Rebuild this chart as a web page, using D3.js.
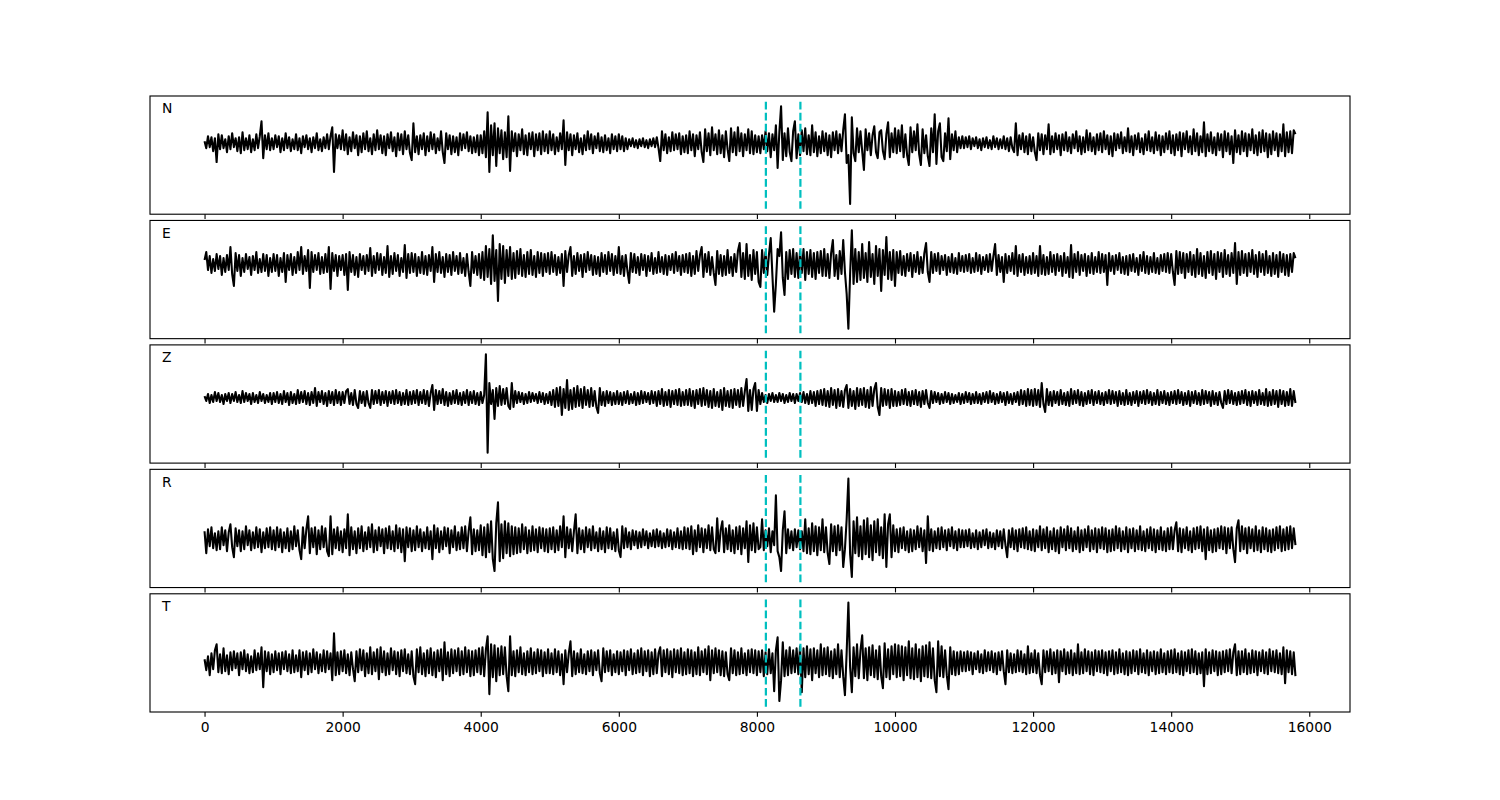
<!DOCTYPE html>
<html>
<head>
<meta charset="utf-8">
<script src="https://cdn.jsdelivr.net/npm/d3@7"></script>
<style>
  html, body { margin: 0; padding: 0; background: #fff; }
  svg { display: block; }
  text { font-family: "DejaVu Sans", sans-serif; }
</style>
</head>
<body>
<svg id="chart" width="1500" height="800"></svg>
<script>
// ---------------- data ----------------
const channels = ["N", "E", "Z", "R", "T"];
const sampleStep = 25;            // samples between listed values
const channelMeans = [12, 15.6, 6, -10.8, -9.4]; // trace mean level (amplitude units)
const pickSamples = [8130, 8630]; // dashed markers
const pickRange = [-54, 54];
const xTicks = [0, 2000, 4000, 6000, 8000, 10000, 12000, 14000, 16000];
const nSamples = 15800;

const traceN = [
  2,-5,7,-4,6,-8,5,-19,9,-6,8,-5,4,-9,7,-6,10,-4,5,-8,6,-10,11,-7,5,-6,8,-9,4,-7,9,-5,7,22,-15,8,-6,10,-7,5,
  -6,8,-4,7,-9,5,-7,10,-5,6,-8,4,-6,9,-7,5,-10,7,-4,8,-6,5,-9,6,-5,10,-7,4,-8,6,-5,9,-6,7,16,-29,9,-5,8,-6,
  13,-7,9,-11,6,-8,11,-5,8,-12,7,-9,10,-6,12,-8,5,-11,9,-7,13,-6,8,-10,7,-12,9,-5,11,-8,6,-13,10,-7,9,-11,12,-6,8,-10,
  -17,20,-9,7,-11,8,-6,10,-12,7,-8,11,-6,9,-10,5,-7,12,-9,-20,10,-6,8,-11,7,-9,6,-12,10,-7,9,-5,11,-8,7,-10,6,-9,8,-12,
  8,-10,12,-14,31,-29,18,-12,20,-23,15,-10,13,-16,11,-14,27,-28,12,-8,10,-13,9,-7,14,-11,8,-12,10,-6,11,-13,9,-7,10,-11,12,-8,9,-10,
  12,-7,9,-11,6,-8,10,-6,23,-22,11,-7,9,-12,8,-6,10,-9,5,-11,8,-7,12,-6,9,-10,7,-5,10,-8,6,-9,8,-7,5,-10,9,-6,7,-8,
  9,-6,7,-8,5,-6,4,-3,5,-4,3,-5,4,-3,5,-4,3,-5,4,-3,5,-4,6,-5,-18,12,-7,9,-10,6,-8,11,-7,9,-6,10,-11,7,-9,8,
  -10,12,-7,9,-13,8,-6,11,-9,-19,14,-8,10,-12,16,-7,9,-11,13,-10,8,-14,12,-6,-18,15,-9,11,-12,16,-8,10,-13,9,-7,14,-10,12,-11,8,
  -9,7,-10,8,-6,12,-8,10,-14,9,-7,18,-25,11,37,-17,10,-13,15,-9,-18,12,22,-15,9,-12,13,-8,15,-11,8,-12,18,-9,11,-13,7,-10,12,-8,
  10,-12,8,-14,11,-7,12,-10,9,-8,13,29,-20,-12,-61,26,-10,-18,15,-9,12,-8,-27,14,-7,10,-12,8,17,-9,-15,11,13,-8,-16,9,21,-14,10,-9,
  15,-10,13,-8,18,-14,9,-12,-22,16,-9,12,-7,19,-11,-22,14,-10,8,-13,-23,15,-9,29,-21,12,20,-14,-18,10,-8,25,-16,9,-7,12,-9,6,-5,7,
  -5,6,-4,7,-6,5,-3,6,-5,4,-7,5,-4,6,-5,3,-6,7,-4,5,-6,4,-5,7,-6,5,-8,6,-5,-9,20,-12,8,-6,10,-9,7,-11,9,-8,
  6,-9,-17,10,-7,9,-11,8,-6,19,-11,7,-9,10,-6,8,-12,9,-7,11,-8,6,-10,9,-5,12,-8,7,-11,6,-9,13,-7,10,-8,6,-11,9,-7,10,
  -9,12,-6,8,-11,7,-13,10,-7,9,-5,11,-10,6,-8,15,-9,7,-12,8,-6,10,-9,5,-11,9,-7,12,-8,6,-10,11,-7,8,-12,7,-9,10,-6,12,
  -10,8,-12,9,-7,11,-13,10,-6,12,-9,7,-11,14,-8,10,-12,7,-9,21,-13,9,-8,11,-10,6,-12,10,-7,9,-14,12,-8,10,-11,7,-20,13,-9,8,
  -11,12,-8,10,-13,9,-7,14,-10,8,-12,11,-9,13,-8,10,-14,9,-11,12,-7,10,-13,9,-8,19,-13,11,-9,12,-10,13,9
];
const traceE = [
  4,12,-6,8,-9,5,-7,10,-5,8,-11,6,-8,9,-6,17,-10,-22,11,-7,9,-12,6,-8,10,-5,7,-11,8,-6,12,-9,5,-8,10,-7,9,-12,6,-8,
  10,-7,9,-12,6,-8,11,-18,9,-6,10,-11,7,-9,12,-6,17,-10,8,-7,14,-24,12,-8,9,-6,11,-10,7,-9,10,-8,17,-25,11,-7,9,-12,8,-6,
  9,-11,10,-26,12,-8,9,-11,7,-13,10,-6,8,-10,9,-7,16,-12,8,-9,11,-6,10,-11,7,-9,18,-13,8,-10,11,-7,9,-12,6,-8,19,-14,10,-9,
  11,-8,10,-12,7,-9,12,-10,8,-11,9,-7,17,-18,10,-8,12,-9,7,-13,10,-8,9,-11,12,-7,8,-10,11,-9,6,-12,10,-8,-22,12,-9,8,-11,10,
  -14,12,-16,18,-13,15,-20,29,-17,14,-37,20,-15,18,-19,14,-12,17,-15,11,-14,13,-10,15,-12,9,-13,12,-10,14,-11,8,-13,12,-9,11,-12,10,-8,11,
  -10,12,-8,9,-11,7,-9,10,-22,13,-8,9,17,-12,8,-10,11,-7,9,-13,10,-8,12,-6,9,-11,8,-10,7,-12,11,-8,9,-10,12,-7,10,-11,8,-9,
  17,-10,8,-12,9,-7,-19,11,-8,10,-9,7,-11,10,-6,9,-12,8,-7,11,-10,6,-9,12,-8,7,-10,9,-11,8,-6,10,-9,12,-7,8,-11,9,-8,10,
  -9,11,-12,8,-10,13,-7,9,17,-13,10,-8,12,-11,7,-9,-21,13,-10,9,-12,8,-11,14,-9,7,-12,10,-8,13,21,-13,11,-15,20,-12,9,-16,14,-10,
  12,-18,-23,14,-9,12,-11,10,26,-12,-48,-20,15,8,32,-14,-31,12,-15,14,-10,15,-13,11,-14,13,-9,15,-16,12,-10,14,-13,11,-15,12,-9,13,-12,15,
  -12,10,-14,11,24,-12,9,-15,13,-10,24,-8,-30,-65,-10,34,-20,15,-18,12,-16,20,-14,11,-18,22,-13,10,-20,18,-12,15,-27,14,-11,27,-15,12,-16,14,
  -22,12,-9,13,-11,8,-12,10,-7,11,-13,9,-8,12,-10,7,-9,11,21,-8,-18,12,-9,10,-7,11,-10,8,-6,9,-11,7,-8,10,-9,6,-10,11,-7,8,
  -8,9,-7,10,-9,6,-8,11,-7,9,-10,7,-6,9,-8,10,-7,8,20,-11,9,-8,7,-18,10,-9,8,-7,11,-10,18,-12,9,-8,10,-11,7,-9,8,-10,
  11,-9,8,-12,18,-10,9,-11,7,-10,12,-8,9,-11,10,-7,8,-12,11,-9,7,-13,19,-14,10,-8,12,-11,9,-7,10,-12,8,-9,11,-10,7,-8,12,-9,
  10,-8,9,-21,11,-7,8,-10,9,-6,11,-9,7,-10,8,-11,9,-7,10,-8,6,-11,9,-7,12,-9,8,-10,7,-8,11,-9,6,-10,9,-7,10,-8,11,-9,
  10,-8,-21,13,-10,12,-9,11,-14,10,-8,12,-11,9,-13,15,-10,11,-12,8,-14,12,-9,13,-11,10,-15,12,-8,11,-13,14,-10,9,-12,11,-9,21,-20,12,
  -11,13,-9,10,-12,11,-8,14,-10,9,-13,12,-8,10,-11,13,-9,8,-12,11,-10,9,-13,12,-8,10,-11,9,-12,10,-8,11,6
];
const traceZ = [
  2,-3,4,-5,3,-4,6,-3,5,-4,3,-6,4,-3,5,-5,4,-3,6,-4,3,-5,7,-4,5,-3,4,-6,5,-4,3,-5,6,-3,4,-5,3,-4,5,-6,
  5,-4,6,-5,4,-6,7,-4,5,-7,6,-5,4,-6,8,-5,6,-4,7,-6,5,-7,6,-5,10,-8,6,-4,7,-6,5,-8,7,-5,6,-7,8,-5,6,-7,
  6,-5,7,9,-6,5,-7,8,-6,-10,7,-5,6,-8,7,-5,-10,8,-6,7,-5,8,-7,6,-5,7,-8,6,-5,7,-6,8,-5,6,-7,5,-6,8,-7,6,
  -6,7,-5,8,-7,6,-5,8,-6,7,-8,5,13,-12,8,-6,7,-5,9,-7,6,-8,5,-6,7,-5,8,-6,5,-7,6,-5,8,-7,6,-5,7,-6,5,-7,
  6,-5,3,44,-55,15,-6,8,-21,10,-8,12,-7,9,-6,10,-8,-11,15,-9,7,-5,6,-4,5,-6,4,-5,6,-4,5,-3,4,-5,6,-4,5,-6,4,-5,
  6,-7,8,-9,10,-8,11,-17,9,-10,18,-12,8,-11,10,-9,12,-8,9,-10,11,-7,8,-9,10,-8,7,-9,-15,10,-7,6,-8,7,-5,6,-7,5,-6,7,
  -6,5,-7,6,-5,7,-6,4,-5,6,-7,5,-6,7,-5,6,-4,5,-6,7,-5,6,-8,7,-6,9,-8,6,-7,8,-9,7,-6,8,-7,9,-8,6,-7,8,
  -7,9,-8,7,-10,8,-6,9,-8,10,-7,8,-9,7,-10,9,-8,6,-9,8,-12,10,-8,7,-9,8,-10,9,-7,8,-9,10,-8,7,19,-13,8,-12,9,15,
  -13,8,-6,5,-4,3,-5,4,-3,5,-4,3,-4,5,-3,4,-5,3,-4,5,-3,4,-5,4,-3,5,-4,6,-5,4,-6,7,-5,6,-8,7,-6,8,-7,9,
  -8,7,-9,10,-7,8,-10,9,-8,7,-9,8,13,-10,9,-8,7,-11,10,-8,9,-7,10,-9,8,-10,11,-8,9,15,-9,-17,10,-8,9,-7,8,-10,9,-8,
  7,-8,6,-7,8,-6,9,-7,6,-8,7,-6,8,-7,6,-9,7,-6,8,-5,-10,7,-5,6,-4,5,-6,4,-5,6,-4,5,-6,4,-5,3,-4,5,-6,4,
  -5,6,-4,5,-6,4,-5,6,-5,4,-6,5,-4,6,-5,7,-4,5,-6,4,-5,6,-4,5,-7,6,-5,4,-6,5,-4,6,-7,8,-6,7,-8,9,-7,8,
  -8,9,-7,8,-9,15,-6,-14,9,-7,6,-8,7,-5,6,-7,8,-6,5,-7,6,-8,9,-6,7,-5,8,-7,6,-8,5,-6,7,-5,8,-7,6,-5,7,-6,
  5,-7,6,-5,8,-6,7,-5,6,-8,7,-6,5,-7,8,-6,5,-7,6,-5,7,-8,6,-5,7,-6,8,-5,6,-7,5,-6,8,-7,6,-5,7,-6,5,-7,
  6,-5,7,-6,8,-5,6,-7,5,-6,7,-8,6,-5,7,-6,5,-7,8,-6,7,-5,6,-8,7,-6,5,-7,6,-5,-10,7,-6,8,-5,7,-6,5,-7,6,
  -6,7,-5,8,-7,6,-8,7,-5,6,-7,8,-6,5,-7,9,-8,6,-7,8,-6,7,-9,8,-6,7,-8,6,-7,9,-8,7,-5
];
const traceR = [
  8,-14,10,-7,12,-9,6,-11,8,-10,12,-6,9,-12,7,15,-8,-18,11,-7,9,-12,8,-10,13,-6,9,-11,7,-9,12,-8,10,-13,7,-9,11,-8,12,-10,
  9,-11,12,-8,10,-13,7,-9,11,-12,8,-10,13,-7,9,-11,-20,12,-9,10,23,-14,11,-8,12,-15,9,-10,13,-8,11,-12,-17,23,-15,10,-9,12,-11,8,
  -13,10,-9,25,-16,12,-10,8,-14,11,-9,13,-12,7,-10,12,-8,15,-13,9,-11,12,-7,10,-14,11,-9,13,-10,8,-12,14,-9,11,-13,10,-22,12,-8,11,
  -12,9,-11,13,-8,10,-12,7,-9,12,-10,8,-20,14,-9,11,-13,8,-10,12,-7,11,-14,9,-8,13,-11,7,-10,12,-9,13,-12,8,22,-15,10,-12,9,-11,
  14,-16,12,-18,15,-13,18,-20,-32,16,37,-22,15,-19,18,-14,16,-17,13,-15,12,-14,11,-13,15,-10,12,-14,9,-12,13,-11,10,-13,12,-9,11,-12,10,-13,
  11,-10,12,-13,9,-11,13,-8,23,-18,12,-9,10,-12,8,25,-14,11,-10,9,-13,12,-8,10,-11,13,-9,7,-12,11,-10,8,-13,12,-9,11,-10,7,-12,10,
  -11,-18,13,-9,11,-8,7,-10,9,-6,8,-9,7,-8,10,-6,8,-9,6,-7,9,-8,10,-7,8,-9,6,-8,10,-7,9,-10,7,-8,11,-9,8,-10,12,-9,
  11,-10,13,-15,9,-12,14,-8,11,-13,10,-9,14,-11,12,-10,-14,21,-12,9,18,-13,11,-10,14,-12,9,-14,12,-10,13,-15,11,-9,18,-23,14,-11,16,-13,
  12,-10,-8,20,-11,9,-7,11,-13,8,-6,44,-12,-18,-32,9,28,-14,10,-9,8,-11,10,-8,9,-10,8,-12,20,-14,11,-15,16,-12,13,-16,12,-11,20,-13,
  12,-14,-25,15,-12,13,-16,14,-11,12,-28,-10,20,61,-15,-38,18,-14,22,-17,13,-20,19,-15,21,-18,14,-21,18,-13,20,-16,12,-19,25,-28,15,25,-18,14,
  -12,10,-13,11,-9,12,-11,8,-13,10,-12,9,-10,13,-8,11,-12,9,-24,23,-11,10,-12,8,-9,11,-10,12,-8,9,-11,10,-7,12,-9,8,-11,10,-8,9,
  -8,9,-7,10,-9,6,-8,9,-10,7,-8,9,-6,10,-9,7,-8,6,-10,9,-7,8,-9,10,-6,-18,9,-8,11,-10,9,-12,10,-8,11,-9,12,-10,8,-11,
  10,-12,9,-8,13,-11,10,-9,12,-13,8,-10,11,-12,9,-14,12,-8,10,-11,13,-9,11,-12,8,-10,12,-13,9,-11,10,-8,13,-12,9,-10,11,-13,10,-9,
  12,-10,11,-13,9,-12,10,-11,13,-9,11,-12,8,-10,12,-13,10,-9,11,-12,9,-10,13,-11,8,-12,10,-9,12,-11,10,-13,9,-10,12,-11,8,-12,11,-10,
  12,-10,9,17,-12,11,-13,10,-9,12,-11,8,-13,11,-10,12,-9,13,-12,10,-20,12,-11,9,-13,10,-12,11,-9,13,-10,12,-14,11,-9,12,-10,-23,11,19,
  -12,13,-10,11,-14,12,-9,10,-12,13,-11,9,-13,12,-10,11,-12,9,-13,10,-11,12,-9,13,-12,10,-11,12,-10,13,-9,11,-6
];
const traceT = [
  3,-8,6,-13,9,-7,12,18,-10,8,-11,14,-9,7,-12,10,-8,11,-6,9,-13,10,-7,12,-9,8,-11,6,-10,12,-8,9,-7,15,-25,11,-9,10,-12,8,
  -10,11,-8,9,-12,10,-7,11,-9,8,-11,12,-10,7,-9,12,-15,10,-8,11,-12,9,-10,13,-7,10,-11,8,-9,12,-10,11,-7,9,-18,29,-13,10,-12,11,
  -9,12,-11,8,-13,10,-7,-19,11,-10,13,-8,12,-14,9,-11,15,-12,10,-9,13,-17,15,-10,11,-13,9,-12,14,-8,11,-12,10,-14,12,-9,13,-11,8,-12,
  11,-14,-22,13,-10,15,-12,9,-14,12,-11,14,-13,10,-15,12,-9,13,-18,20,-12,10,-14,13,-11,12,-9,14,-13,11,-12,15,-10,12,-14,11,-13,12,-10,14,
  -12,15,-14,13,26,-32,18,-15,17,-19,14,-13,16,-12,15,-14,-29,26,-13,11,-14,12,-10,15,-12,9,-13,11,-10,14,-12,10,-11,13,-9,12,-14,10,-11,13,
  -11,9,-12,13,-10,11,-13,8,-22,12,-10,9,21,-14,11,-12,9,-10,13,-11,8,-12,11,-9,12,-13,10,-8,12,-11,-19,14,-10,11,-9,12,-13,8,-10,11,
  -12,10,-9,12,-13,11,-8,13,-12,9,-11,12,-10,14,-13,11,-9,12,-14,10,-12,13,-11,9,15,-14,12,-10,13,-12,11,-15,13,-10,12,-11,14,-13,10,-12,
  13,-11,12,-14,10,-12,15,-13,11,-10,13,-12,16,-18,12,-11,14,-10,12,-13,11,-14,10,-12,-18,14,-11,12,-13,10,-12,14,-11,9,-13,12,-10,13,-11,12,
  -13,11,-10,12,-14,10,-12,13,-11,9,-29,12,25,-39,-18,20,-14,12,-13,15,-11,12,-10,14,-12,16,-30,14,-15,16,-12,13,-18,14,-11,12,-15,18,-13,14,
  -12,15,-14,11,-16,13,-12,18,-15,12,-14,-33,10,60,-5,-30,15,-14,18,-16,12,27,-16,14,-18,15,-13,17,-15,12,-17,16,-14,-26,19,-15,13,-17,16,-12,
  18,-15,17,-14,16,-18,15,-13,21,-16,14,-17,18,-15,13,-19,16,-14,17,-15,20,-16,14,-18,-30,21,-14,16,-15,12,-13,-27,15,-12,11,-13,10,-12,11,-9,
  10,-9,11,-8,10,-12,9,-7,11,-10,8,-11,12,-9,10,-8,11,-10,9,-12,10,-8,11,-9,-22,12,-10,9,-11,8,-10,12,-9,11,-10,8,-12,16,-11,9,
  -10,12,-11,9,-13,-22,12,-10,11,-9,13,-12,10,-11,12,-20,11,-9,13,-12,10,-11,12,-13,9,-11,18,-12,10,-11,13,-9,11,-12,10,-13,12,-9,11,-10,
  12,-11,10,-13,11,-9,12,-12,10,-11,13,-10,9,-12,11,-13,10,-11,12,-9,11,-12,13,-10,9,-11,12,-13,10,-9,11,-12,10,-11,13,-10,9,-12,11,-10,
  12,-11,13,-10,9,-12,11,-13,10,-9,12,-11,13,-10,11,-12,9,-11,10,-24,13,-12,10,-11,12,-9,11,-13,10,-12,11,-10,12,-9,13,-11,10,18,-13,11,
  -12,11,-10,13,-12,9,-11,12,-10,11,-13,10,-9,12,-11,10,-12,13,-9,11,-10,12,-11,9,-12,15,-21,12,-10,11,-12,10,-14
];
const traces = [traceN, traceE, traceZ, traceR, traceT];

// ---------------- layout ----------------
const W = 1500, H = 800;
const figLeft = 150, figRight = 1350, figTop = 96, figBottom = 712;
const nRows = channels.length;
const hspace = 0.0528;
const panelH = (figBottom - figTop) / (nRows + (nRows - 1) * hspace);
const gap = panelH * hspace;
const px = v => v * 100 / 72;   // points -> pixels

const svg = d3.select("#chart");
svg.append("rect").attr("width", W).attr("height", H).attr("fill", "#fff");

const xMargin = nSamples * 0.05;
const x = d3.scaleLinear()
  .domain([-xMargin, nSamples + xMargin])
  .range([figLeft, figRight]);

const yLim = pickRange[1] * 1.1;

channels.forEach((ch, k) => {
  const top = figTop + k * (panelH + gap);
  const bottom = top + panelH;
  const y = d3.scaleLinear().domain([-yLim, yLim]).range([bottom, top]);
  const g = svg.append("g");

  const data = traces[k];
  const line = d3.line()
    .x((d, i) => x(i * sampleStep))
    .y(d => y(d + channelMeans[k]));

  g.append("path")
    .datum(data)
    .attr("d", line)
    .attr("fill", "none")
    .attr("stroke", "#000")
    .attr("stroke-width", px(1.5))
    .attr("stroke-linejoin", "round");

  // pick markers (drawn bottom -> top like matplotlib vlines)
  pickSamples.forEach(p => {
    g.append("line")
      .attr("x1", x(p)).attr("x2", x(p))
      .attr("y1", y(pickRange[0])).attr("y2", y(pickRange[1]))
      .attr("stroke", "#00bfbf")
      .attr("stroke-width", px(1.6))
      .attr("stroke-dasharray", `${px(5.55)},${px(2.4)}`);
  });

  // frame
  g.append("rect")
    .attr("x", figLeft).attr("y", top)
    .attr("width", figRight - figLeft).attr("height", panelH)
    .attr("fill", "none")
    .attr("stroke", "#000")
    .attr("stroke-width", px(0.8));

  // x axis ticks
  const axis = d3.axisBottom(x)
    .tickValues(xTicks)
    .tickSize(px(3.5))
    .tickPadding(px(3.5))
    .tickFormat(k === nRows - 1 ? d3.format("d") : () => "");
  const ax = svg.append("g")
    .attr("transform", `translate(0,${bottom})`)
    .call(axis);
  ax.select(".domain").remove();
  ax.selectAll(".tick line").attr("stroke", "#000").attr("stroke-width", px(0.8));
  ax.selectAll(".tick text")
    .attr("fill", "#000")
    .style("font-family", "DejaVu Sans, sans-serif")
    .style("font-size", px(10) + "px");

  // channel label
  g.append("text")
    .attr("x", figLeft + 12)
    .attr("y", top + 17.3)
    .attr("fill", "#000")
    .style("font-size", px(10) + "px")
    .text(ch);
});
</script>
</body>
</html>
